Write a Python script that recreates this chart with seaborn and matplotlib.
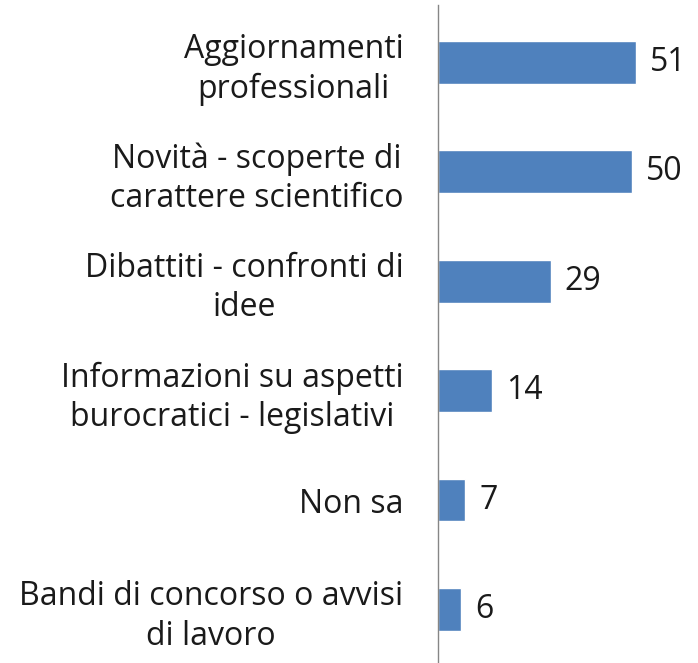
import matplotlib
matplotlib.use("Agg")
import matplotlib.pyplot as plt
import seaborn as sns
import pandas as pd

# Data
categories = [
    "Aggiornamenti\nprofessionali",
    "Novità - scoperte di\ncarattere scientifico",
    "Dibattiti - confronti di\nidee",
    "Informazioni su aspetti\nburocratici - legislativi",
    "Non sa",
    "Bandi di concorso o avvisi\ndi lavoro",
]
values = [51, 50, 29, 14, 7, 6]

df = pd.DataFrame({"categoria": categories, "valore": values})

sns.set_style("white")
plt.rcParams["font.family"] = ["Open Sans", "DejaVu Sans"]

fig = plt.figure(figsize=(6.98, 6.63), dpi=100)
ax = fig.add_axes([438 / 698, 0, 260 / 698, 658 / 663])

sns.barplot(data=df, x="valore", y="categoria", color="#4F81BD",
            width=0.39, saturation=1, ax=ax)

# value labels
for i, v in enumerate(values):
    ax.annotate(str(v), xy=(v, i), xytext=(10, 0), textcoords="offset points",
                va="center", ha="left", fontsize=23, color="#1a1a1a")

ax.set_xlim(0, 67)
ax.set_ylim(5.49, -0.525)
ax.set_xlabel("")
ax.set_ylabel("")
ax.set_xticks([])
ax.set_yticks(range(len(categories)))
ax.set_yticklabels(categories, fontsize=23, color="#1a1a1a",
                   multialignment="center", linespacing=1.25)
ax.tick_params(axis="y", length=0, pad=25)

for side in ["top", "right", "bottom"]:
    ax.spines[side].set_visible(False)
ax.spines["left"].set_color("#868686")
ax.spines["left"].set_linewidth(1)

fig.savefig("out.png", dpi=100, facecolor="white")
